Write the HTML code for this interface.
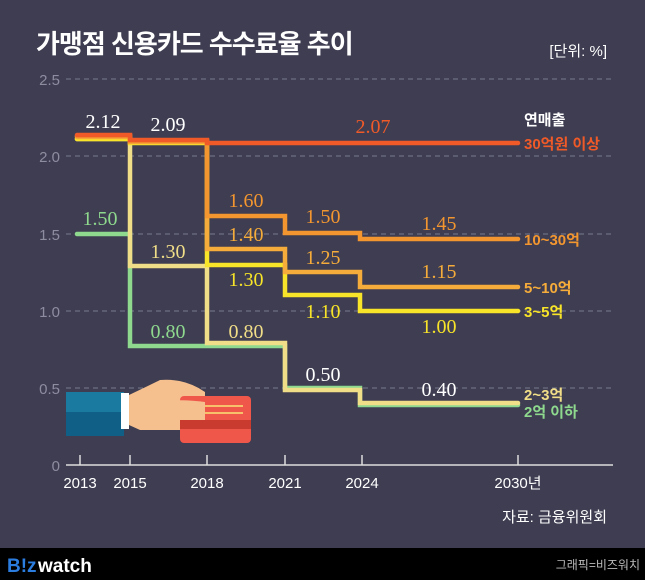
<!DOCTYPE html>
<html><head><meta charset="utf-8"><style>
body{margin:0;width:645px;height:580px;overflow:hidden;background:#3e3d51}
svg{display:block}
.s{font-family:"Liberation Serif",serif;font-size:20px}
.k{font-family:"Liberation Sans","Noto Sans CJK KR",sans-serif}
</style></head><body>
<svg width="645" height="580" viewBox="0 0 645 580">
<rect width="645" height="580" fill="#3e3d51"/>
<text x="36" y="53" class="k" font-size="26" font-weight="bold" fill="#fff" letter-spacing="-1">가맹점 신용카드 수수료율 추이</text>
<text x="607" y="56" class="k" font-size="15" fill="#fff" text-anchor="end">[단위: %]</text>
<g stroke="#7b7a90" stroke-dasharray="5,4" stroke-width="1">
<line x1="66" y1="79" x2="613" y2="79"/><line x1="66" y1="156" x2="613" y2="156"/>
<line x1="66" y1="234" x2="613" y2="234"/><line x1="66" y1="311" x2="613" y2="311"/>
<line x1="66" y1="388" x2="613" y2="388"/></g>
<g class="k" font-size="15" fill="#8e8da0" text-anchor="end">
<text x="60" y="85">2.5</text><text x="60" y="162">2.0</text><text x="60" y="240">1.5</text>
<text x="60" y="317">1.0</text><text x="60" y="394">0.5</text><text x="60" y="471">0</text></g>
<line x1="66" y1="465" x2="613" y2="465" stroke="#ddd" stroke-width="1.5"/>
<g stroke="#ddd" stroke-width="1.5">
<line x1="80" y1="455" x2="80" y2="465"/><line x1="130" y1="455" x2="130" y2="465"/>
<line x1="207" y1="455" x2="207" y2="465"/><line x1="285" y1="455" x2="285" y2="465"/>
<line x1="362" y1="455" x2="362" y2="465"/><line x1="518" y1="455" x2="518" y2="465"/></g>
<g class="k" font-size="15" fill="#fff" text-anchor="middle">
<text x="80" y="488">2013</text><text x="130" y="488">2015</text><text x="207" y="488">2018</text>
<text x="285" y="488">2021</text><text x="362" y="488">2024</text><text x="518" y="488">2030년</text></g>
<text x="607" y="522" class="k" font-size="15" fill="#fff" text-anchor="end">자료: 금융위원회</text>
<rect x="66" y="400" width="58" height="36" fill="#0f5f86"/>
<rect x="66" y="392" width="58" height="20" fill="#1b7aa0"/>
<rect x="121" y="393" width="8" height="36" fill="#fff"/>
<path d="M129 395 Q150 385 160 380 Q185 378 205 392 L205 430 L140 430 L129 425Z" fill="#f5bf8e"/>
<rect x="180" y="396" width="71" height="47" rx="4" fill="#f0574b"/>
<rect x="180" y="420" width="71" height="9" fill="#c83b2e"/>
<rect x="188" y="405" width="55" height="2" fill="#f7c06a"/><rect x="188" y="412" width="55" height="2" fill="#f7c06a"/>
<path d="M160 403 Q175 398 205 402 L205 420 L165 420Z" fill="#f5bf8e"/>
<g fill="none" stroke-width="4.5" stroke-linecap="round" stroke-linejoin="miter">
<polyline stroke="#8ed98e" points="77,234 130,234 130,346 285,346 285,388 360,388 360,405 518,405"/>
<polyline stroke="#f1de88" points="77,139 130,139 130,266 207,266 207,343 285,343 285,390 360,390 360,403 518,403"/>
<polyline stroke="#f8e428" points="77,139 130,139 130,143 207,143 207,265 285,265 285,295 360,295 360,311 518,311"/>
<polyline stroke="#f6ac3a" points="77,137 130,137 130,142 207,142 207,249 285,249 285,272 360,272 360,287 518,287"/>
<polyline stroke="#f39630" points="77,136 130,136 130,141 207,141 207,216 285,216 285,233 360,233 360,239 518,239"/>
<polyline stroke="#f05a28" points="77,135 130,135 130,140 207,140 207,143 518,143"/>
</g>
<g class="s" text-anchor="middle">
<text x="103" y="128" fill="#fff">2.12</text><text x="168" y="131" fill="#fff">2.09</text>
<text x="373" y="133" fill="#f05a28">2.07</text>
<text x="246" y="207" fill="#f39630">1.60</text><text x="323" y="223" fill="#f39630">1.50</text><text x="439" y="230" fill="#f39630">1.45</text>
<text x="246" y="241" fill="#f6ac3a">1.40</text><text x="323" y="264" fill="#f6ac3a">1.25</text><text x="439" y="278" fill="#f6ac3a">1.15</text>
<text x="168" y="258" fill="#f1de88">1.30</text><text x="246" y="286" fill="#f8e428">1.30</text>
<text x="323" y="318" fill="#f8e428">1.10</text><text x="439" y="333" fill="#f8e428">1.00</text>
<text x="100" y="225" fill="#8ed98e">1.50</text><text x="168" y="338" fill="#8ed98e">0.80</text>
<text x="246" y="338" fill="#f1de88">0.80</text><text x="323" y="381" fill="#fff">0.50</text><text x="439" y="396" fill="#fff">0.40</text>
</g>
<g class="k" font-size="15" font-weight="bold">
<text x="524" y="125" fill="#fff">연매출</text><text x="524" y="149" fill="#f05a28">30억원 이상</text>
<text x="524" y="245" fill="#f39630">10~30억</text><text x="524" y="293" fill="#f6ac3a">5~10억</text>
<text x="524" y="317" fill="#f8e428">3~5억</text>
<text x="524" y="400" fill="#f1de88">2~3억</text><text x="524" y="417" fill="#8ed98e">2억 이하</text></g>
<rect x="0" y="548" width="645" height="32" fill="#000"/>
<text x="7" y="572" class="k" font-size="19" font-weight="bold" fill="#2b7de0">B!z</text>
<text x="38" y="572" class="k" font-size="19" font-weight="bold" fill="#fff">watch</text>
<text x="640" y="569" class="k" font-size="12" fill="#bbb" text-anchor="end">그래픽=비즈워치</text>
</svg>
</body></html>
